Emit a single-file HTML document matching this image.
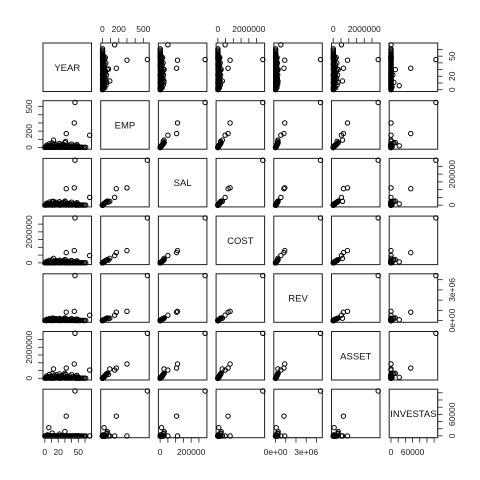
<!DOCTYPE html>
<html><head><meta charset="utf-8"><style>
body{margin:0;background:#fff;}
svg{display:block;font-family:"Liberation Sans",Arial,sans-serif;}
</style></head><body>
<svg id="chart" width="480" height="480" viewBox="0 0 480 480" xmlns="http://www.w3.org/2000/svg"></svg>
<script>
const varNames = ["YEAR","EMP","SAL","COST","REV","ASSET","INVESTAS"];
const year  = [1,2,3,4,5,7,8,9,10,11,12,14,15,16,17,18,19,20,21,22,23,24,25,26,27,28,29,30,33,35,37,38,40,42,44,46,47,48,50,52, 45,44,32,67,6,13,31,55,61,
  0,1,2,3,4,5,6,8,9,10,11,12,13,15,17,19,20,22,24,26,28,30,31,32,34,36,38,39,41,43,45,46,47,48,49,50,51,53,57,59];
const emp   = [5,12,30,8,20,45,15,3,25,55,10,35,6,18,40,22,9,28,14,50,4,33,11,26,7,38,16,60,21,13,30,8,42,19,6,27,10,35,15,4, 550,300,170,150,20,90,75,3,2,
  2,4,1,6,3,9,2,5,7,3,1,4,8,2,6,3,5,1,2,7,4,3,6,2,5,1,3,4,2,6,3,1,2,4,1,3,2,1,2,1];
const sal   = [2000,5000,13000,3500,9000,20000,7000,1500,11000,24000,4500,15000,2500,8000,18000,10000,4000,12000,6000,22000,1800,14000,5000,11500,3000,17000,7000,26000,9500,5500,13000,3500,19000,8500,2600,12000,4400,15500,6500,1700, 290000,112000,106000,50000,9000,25000,20000,1000,800,
  800,1600,400,2400,1200,3600,800,2000,2800,1200,400,1600,3200,800,2400,1200,2000,400,800,2800,1600,1200,2400,800,2000,400,1200,1600,800,2400,1200,400,800,1600,400,1200,800,400,800,400];
const cost  = [15000,40000,100000,28000,70000,160000,55000,12000,90000,190000,36000,120000,20000,64000,145000,80000,32000,95000,48000,175000,14000,110000,40000,92000,24000,135000,56000,210000,76000,44000,104000,28000,150000,68000,21000,96000,35000,124000,52000,13000, 2900000,790000,660000,470000,60000,290000,180000,8000,6000,
  6400,12800,3200,19200,9600,28800,6400,16000,22400,9600,3200,12800,25600,6400,19200,9600,16000,3200,6400,22400,12800,9600,19200,6400,16000,3200,9600,12800,6400,19200,9600,3200,6400,12800,3200,9600,6400,3200,6400,3200];
const rev   = [18000,50000,125000,34000,85000,200000,66000,14000,110000,230000,43000,145000,24000,77000,175000,96000,38000,115000,58000,210000,17000,132000,48000,110000,29000,162000,67000,250000,91000,53000,125000,34000,180000,82000,25000,115000,42000,149000,62000,16000, 4400000,900000,820000,520000,70000,230000,200000,10000,8000,
  8000,16000,4000,24000,12000,36000,8000,20000,28000,12000,4000,16000,32000,8000,24000,12000,20000,4000,8000,28000,16000,12000,24000,8000,20000,4000,12000,16000,8000,24000,12000,4000,8000,16000,4000,12000,8000,4000,8000,4000];
const asset = [20000,60000,150000,40000,90000,250000,70000,15000,120000,300000,45000,180000,30000,85000,220000,110000,40000,140000,65000,280000,18000,160000,55000,130000,35000,200000,75000,320000,100000,60000,150000,38000,230000,90000,28000,135000,48000,190000,70000,20000, 2900000,920000,660000,530000,60000,600000,250000,12000,9000,
  9600,19200,4800,28800,14400,43200,9600,24000,33600,14400,4800,19200,38400,9600,28800,14400,24000,4800,9600,33600,19200,14400,28800,9600,24000,4800,14400,19200,9600,28800,14400,4800,9600,19200,4800,14400,9600,4800,9600,4800];
const inv   = [0,0,0,3000,0,0,0,0,0,8000,0,0,0,0,0,0,0,0,0,5000,0,0,0,0,0,0,0,12000,0,0,0,0,0,0,0,0,0,0,0,0, 125000,0,55000,0,23000,0,0,0,0,
  0,0,0,0,0,0,0,0,0,0,0,0,0,0,0,0,0,0,0,0,0,0,0,0,0,0,0,0,0,0,0,0,0,0,0,0,0,0,0,0];
const yearTicks = [0,10,20,30,40,50,60];
const empTicks = [0,100,200,300,400,500];
const salTicks = [0,50000,100000,150000,200000,250000];
const costTicks = [0,500000,1000000,1500000,2000000,2500000];
const revTicks = [0,1000000,2000000,3000000,4000000];
const assetTicks = [0,500000,1000000,1500000,2000000,2500000];
const invTicks = [0,20000,40000,60000,80000,100000,120000];
const yearLabels = {0:"0",20:"20",50:"50"};
const empLabels = {0:"0",200:"200",500:"500"};
const salLabels = {0:"0",200000:"200000"};
const costLabels = {0:"0",2000000:"2000000"};
const revLabels = {0:"0e+00",3000000:"3e+06"};
const assetLabels = {0:"0",2000000:"2000000"};
const invLabels = {0:"0",60000:"60000"};

const vars = [year,emp,sal,cost,rev,asset,inv];
const ticks = [yearTicks,empTicks,salTicks,costTicks,revTicks,assetTicks,invTicks];
const labels = [yearLabels,empLabels,salLabels,costLabels,revLabels,assetLabels,invLabels];
const svg = document.getElementById('chart');
const NS = "http://www.w3.org/2000/svg";
const P0 = 43, STEP = 57.7, SZ = 48.5;
function mk(tag, attrs){const e=document.createElementNS(NS,tag);for(const k in attrs)e.setAttribute(k,attrs[k]);svg.appendChild(e);return e;}
function rng(v){let mn=Math.min(...v),mx=Math.max(...v);const d=mx-mn;return [mn-0.04*d,mx+0.04*d];}
const ranges = vars.map(rng);
function sx(k,v,col){const r=ranges[k];return P0+STEP*col+(v-r[0])/(r[1]-r[0])*SZ;}
function sy(k,v,row){const r=ranges[k];return P0+STEP*row+SZ-(v-r[0])/(r[1]-r[0])*SZ;}

for(let row=0;row<7;row++){
  for(let col=0;col<7;col++){
    const x0=P0+STEP*col,y0=P0+STEP*row;
    const rect=mk('rect',{x:x0,y:y0,width:SZ,height:SZ,fill:'none',stroke:'#222','stroke-width':1});
    
    
    if(row===col){
      const t=mk('text',{x:x0+SZ/2,y:y0+SZ/2+3.5,'text-anchor':'middle','font-size':9.5,fill:'#111'});
      t.textContent=varNames[row];
      
      
    } else {
      const xs=vars[col], ys=vars[row];
      for(let i=0;i<xs.length;i++){
        const c=mk('circle',{cx:sx(col,xs[i],col),cy:sy(row,ys[i],row),r:2.2,fill:'none',stroke:'#000','stroke-width':1});
        
        
      }
    }
  }
}
function drawAxis(k, side){
  const tk=ticks[k], lb=labels[k];
  const g=document.createElementNS(NS,'g');svg.appendChild(g);
  
  
  const add=(tag,a)=>{const e=document.createElementNS(NS,tag);for(const q in a)e.setAttribute(q,a[q]);g.appendChild(e);return e;};
  if(side==='top'||side==='bottom'){
    const yl = side==='top'? P0 : P0+STEP*6+SZ;
    const dir = side==='top'? -1 : 1;
    const xa=tk.map(v=>sx(k,v,k));
    add('line',{x1:xa[0],x2:xa[xa.length-1],y1:yl,y2:yl,stroke:'#222','stroke-width':0.8});
    tk.forEach((v,i)=>{
      add('line',{x1:xa[i],x2:xa[i],y1:yl,y2:yl+dir*5,stroke:'#222','stroke-width':0.8});
      if(lb[v]!==undefined){const t=add('text',{x:xa[i],y: side==='top'?32:455,'text-anchor':'middle','font-size':8.5,fill:'#222'});t.textContent=lb[v];}
    });
  } else {
    const xl = side==='left'? P0 : P0+STEP*6+SZ;
    const dir = side==='left'? -1 : 1;
    const ya=tk.map(v=>sy(k,v,k));
    add('line',{x1:xl,x2:xl,y1:ya[0],y2:ya[ya.length-1],stroke:'#222','stroke-width':0.8});
    tk.forEach((v,i)=>{
      add('line',{x1:xl,x2:xl+dir*5,y1:ya[i],y2:ya[i],stroke:'#222','stroke-width':0.8});
      if(lb[v]!==undefined){const lx = side==='left'?29:452;const t=add('text',{x:lx,y:ya[i],'text-anchor':'middle','font-size':8.5,fill:'#222',transform:`rotate(-90 ${lx} ${ya[i]}) translate(0 3)`});t.textContent=lb[v];}
    });
  }
}
for(let k=0;k<7;k++){
  drawAxis(k, k%2===0?'bottom':'top');
  drawAxis(k, k%2===0?'right':'left');
}
</script>
</body></html>
